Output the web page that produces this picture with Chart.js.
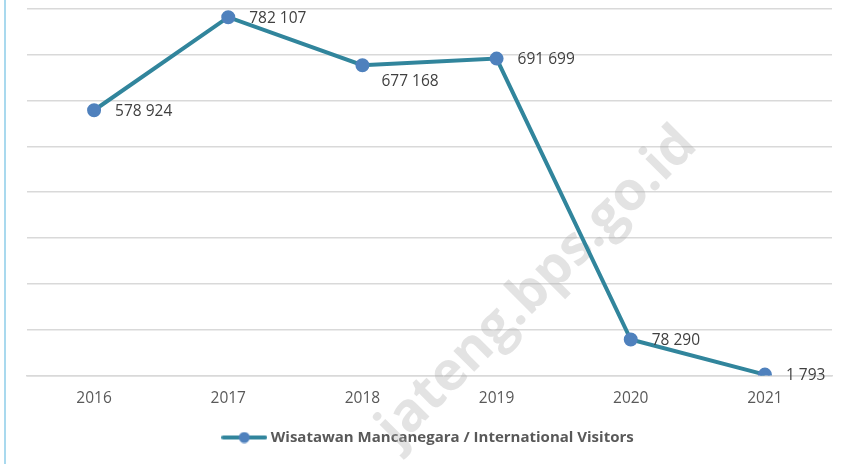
<!DOCTYPE html>
<html>
<head>
<meta charset="utf-8">
<script src="https://cdn.jsdelivr.net/npm/chart.js@4.4.0/dist/chart.umd.min.js"></script>
<style>
  html, body { margin: 0; padding: 0; background: #fff; }
  #wrap { position: relative; width: 850px; height: 464px; }
  #edge { position: absolute; left: 4px; top: 0; width: 2px; height: 464px; background: #a9d9ee; }
</style>
</head>
<body>
<div id="wrap">
  <div id="edge"></div>
  <canvas id="chart" width="850" height="464"></canvas>
</div>
<script>
// chart data
const years = ["2016", "2017", "2018", "2019", "2020", "2021"];
const visitors = [578924, 782107, 677168, 691699, 78290, 1793];
const seriesName = "Wisatawan Mancanegara / International Visitors";
const watermarkText = "jateng.bps.go.id";

const lineColor = "#31859c";
const dotColor = "#4f81bd";

function fmt(v) {
    return String(v).replace(/\B(?=(\d{3})+(?!\d))/g, " ");
}

// legend marker: short line with a dot
const marker = document.createElement("canvas");
marker.width = 46; marker.height = 12;
(function() {
    const m = marker.getContext("2d");
    m.strokeStyle = lineColor; m.lineWidth = 4; m.lineCap = "round";
    m.beginPath(); m.moveTo(2, 6); m.lineTo(44, 6); m.stroke();
    m.fillStyle = dotColor;
    m.beginPath(); m.arc(23, 6, 5.5, 0, Math.PI * 2); m.fill();
})();

// watermark, behind the line
const watermark = {
    id: "watermark",
    beforeDatasetsDraw(chart) {
        const ctx = chart.ctx;
        ctx.save();
        ctx.translate(699, 147);
        ctx.rotate(-Math.PI / 4);
        ctx.font = "bold 54px 'Open Sans'";
        ctx.fillStyle = "rgba(170,170,170,0.33)";
        ctx.textAlign = "right";
        ctx.textBaseline = "alphabetic";
        ctx.fillText(watermarkText, 0, 0);
        ctx.restore();
    }
};

// value labels to the right of each point (below for a dip)
const valueLabels = {
    id: "valueLabels",
    afterDatasetsDraw(chart) {
        const ctx = chart.ctx;
        const meta = chart.getDatasetMeta(0);
        const data = chart.data.datasets[0].data;
        ctx.save();
        ctx.font = "15.5px 'Open Sans'";
        ctx.fillStyle = "#404040";
        ctx.textAlign = "left";
        ctx.textBaseline = "middle";
        meta.data.forEach((pt, i) => {
            const dip = i > 0 && i < data.length - 1 && data[i] < data[i - 1] && data[i] < data[i + 1];
            ctx.fillText(fmt(data[i]), pt.x + (dip ? 19 : 21), pt.y + (dip ? 16 : 1));
        });
        ctx.restore();
    }
};

new Chart(document.getElementById("chart"), {
    type: "line",
    data: {
        labels: years,
        datasets: [{
            label: seriesName,
            data: visitors,
            borderColor: lineColor,
            borderWidth: 4,
            pointBackgroundColor: dotColor,
            pointBorderColor: dotColor,
            pointRadius: 5,
            pointStyle: "circle",
            tension: 0
        }]
    },
    options: {
        responsive: false,
        animation: false,
        layout: { padding: { left: 27, right: 18, top: 8, bottom: 9 } },
        scales: {
            x: {
                offset: true,
                grid: { display: false, drawTicks: false },
                border: { color: "#d9d9d9", width: 1.5 },
                ticks: { color: "#595959", font: { family: "'Open Sans'", size: 15.5 }, padding: 14 }
            },
            y: {
                min: 0, max: 800000,
                ticks: { display: false, stepSize: 100000 },
                grid: { color: "#d9d9d9", lineWidth: 1.5, drawTicks: false },
                border: { display: false }
            }
        },
        plugins: {
            legend: {
                position: "bottom",
                labels: {
                    color: "#595959",
                    font: { family: "'Open Sans'", size: 15, weight: "bold" },
                    usePointStyle: true,
                    pointStyleWidth: 38,
                    padding: 8,
                    generateLabels(chart) {
                        const ds = chart.data.datasets[0];
                        return [{ text: ds.label, pointStyle: marker, fontColor: "#595959", lineWidth: 0, strokeStyle: "transparent", fillStyle: "transparent", datasetIndex: 0 }];
                    }
                }
            },
            tooltip: { enabled: false }
        }
    },
    plugins: [watermark, valueLabels]
});
</script>
</body>
</html>
